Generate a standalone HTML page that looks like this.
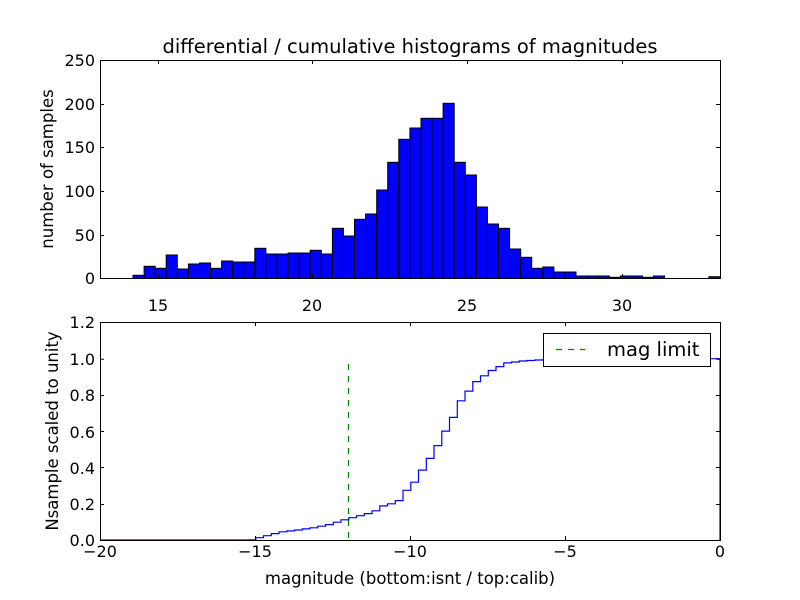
<!DOCTYPE html>
<html><head><meta charset="utf-8"><style>body{margin:0;background:#fff}svg{display:block}text{font-family:"DejaVu Sans","Liberation Sans",sans-serif;fill:#000}</style></head>
<body>
<svg id="s" width="800" height="600" xmlns="http://www.w3.org/2000/svg">
<rect width="800" height="600" fill="#fff"/>
<g id="bars" fill="#0000ff" stroke="#000" stroke-width="1"></g>
<rect x="100.5" y="60.5" width="620" height="218" fill="none" stroke="#000"/>
<g stroke="#000" stroke-width="1" id="tt"></g>
<text x="410" y="53" font-size="19.5" text-anchor="middle">differential / cumulative histograms of magnitudes</text>
<g font-size="16" text-anchor="end">
<text x="95" y="66">250</text><text x="95" y="110">200</text><text x="95" y="153">150</text><text x="95" y="197">100</text><text x="95" y="241">50</text><text x="95" y="284">0</text>
</g>
<g font-size="16" text-anchor="middle">
<text x="158" y="311">15</text><text x="312" y="311">20</text><text x="467" y="311">25</text><text x="622" y="311">30</text>
</g>
<text transform="translate(53,169) rotate(-90)" font-size="16.5" text-anchor="middle">number of samples</text>

<line x1="348.5" y1="364" x2="348.5" y2="540" stroke="#008000" stroke-width="1.2" stroke-dasharray="6,6"/>
<path id="cum" fill="none" stroke="#0000ff" stroke-width="1.2"/>
<rect x="100.5" y="322.5" width="620" height="218" fill="none" stroke="#000"/>
<g stroke="#000" stroke-width="1" id="tb"></g>
<rect x="543.5" y="333.5" width="167" height="33" fill="#fff" stroke="#000"/>
<line x1="556" y1="349.5" x2="585" y2="349.5" stroke="#008000" stroke-width="1.2" stroke-dasharray="6,6"/>
<text x="607" y="356" font-size="19.5">mag limit</text>
<g font-size="16" text-anchor="end">
<text x="95" y="328">1.2</text><text x="95" y="365">1.0</text><text x="95" y="401">0.8</text><text x="95" y="438">0.6</text><text x="95" y="474">0.4</text><text x="95" y="510">0.2</text><text x="95" y="546">0.0</text>
</g>
<g font-size="16" text-anchor="middle">
<text x="100" y="557">−20</text><text x="255" y="557">−15</text><text x="410" y="557">−10</text><text x="565" y="557">−5</text><text x="720" y="557">0</text>
</g>
<text x="410" y="584" font-size="16.5" text-anchor="middle">magnitude (bottom:isnt / top:calib)</text>
<text transform="translate(58,431) rotate(-90)" font-size="16.5" text-anchor="middle">Nsample scaled to unity</text>
</svg>
<script>
var ns="http://www.w3.org/2000/svg";
function el(p,t,a){var e=document.createElementNS(ns,t);for(var k in a)e.setAttribute(k,a[k]);p.appendChild(e);}
var tops=[275.3,266.3,268.3,255,269,264,263,268.3,261,262,262,248.3,254,254,253,253,250.3,254,228.3,236,219.3,214,190,162.3,139.3,128,118.3,118.3,103.3,162.3,175,207,224,228.3,249,257.3,268.3,267,272,272,276,276,276,277.3,276,276,277.3,276,null,null,null,null,276.7];
var g=document.getElementById('bars'),w=(720-133)/53;
tops.forEach(function(t,i){if(t===null)return;var x=133+i*w;el(g,'rect',{x:x.toFixed(1),y:t,width:w.toFixed(1),height:(278.5-t).toFixed(1)});});
var tt=document.getElementById('tt');
[158,312,467,622].forEach(function(x){el(tt,'line',{x1:x+.5,y1:60,x2:x+.5,y2:64});el(tt,'line',{x1:x+.5,y1:278,x2:x+.5,y2:274});});
[104,147,191,235].forEach(function(y){el(tt,'line',{x1:100,y1:y+.5,x2:104,y2:y+.5});el(tt,'line',{x1:720,y1:y+.5,x2:716,y2:y+.5});});
var tb=document.getElementById('tb');
[255,410,565].forEach(function(x){el(tb,'line',{x1:x+.5,y1:322,x2:x+.5,y2:326});el(tb,'line',{x1:x+.5,y1:540,x2:x+.5,y2:536});});
[358.7,395,431,467,504].forEach(function(y){el(tb,'line',{x1:100,y1:y+.5,x2:104,y2:y+.5});el(tb,'line',{x1:720,y1:y+.5,x2:716,y2:y+.5});});
var P=[[240,540],[255,540],[270,536],[285,532],[302,530],[317,528],[333,524.7],[348,520],[363,516],[378,512],[387,506],[402,502],[410,491],[418,483],[425,472],[433,460],[441,447],[449,432],[457,418],[464,402],[472,392],[480,382],[488,376],[495,371],[503,367],[511,363],[527,361],[543,360],[565,359],[600,358.7],[720,358.7]];
function f(x){for(var i=0;i<P.length-1;i++){if(x<=P[i+1][0]){var a=P[i],b=P[i+1];return a[1]+(b[1]-a[1])*(x-a[0])/(b[0]-a[0]);}}return 358.7;}
var d="M100,540 L248,540";
for(var x=248;x<720;x+=7.75){var ny=f(x+7.75);d+=" L"+x.toFixed(1)+","+ny.toFixed(1)+" L"+Math.min(x+7.75,720).toFixed(1)+","+ny.toFixed(1);}
d+=" L720,358.7 L720,540";
document.getElementById('cum').setAttribute('d',d);
</script>
</body></html>
